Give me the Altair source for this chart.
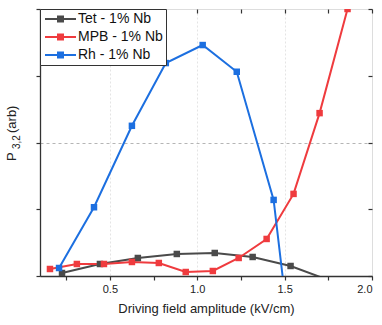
import altair as alt
import pandas as pd

series_names = ["Tet - 1% Nb", "MPB - 1% Nb", "Rh - 1% Nb"]
series_colors = ["#4a4a4a", "#ef3b3e", "#1c6fe0"]

tet_x = [0.226, 0.443, 0.66, 0.883, 1.10, 1.317, 1.534, 1.75]
tet_y = [0.045, 0.18, 0.27, 0.33, 0.345, 0.285, 0.15, -0.06]

mpb_x = [0.157, 0.311, 0.466, 0.626, 0.78, 0.934, 1.089, 1.237, 1.397, 1.551, 1.70, 1.86]
mpb_y = [0.105, 0.18, 0.18, 0.21, 0.195, 0.06, 0.075, 0.27, 0.555, 1.23, 2.44, 4.0]

rh_x = [0.209, 0.409, 0.626, 0.82, 1.031, 1.226, 1.437, 1.65]
rh_y = [0.12, 1.03, 2.25, 3.19, 3.46, 3.06, 1.14, -3.6]

x_ticks = [0.25, 0.5, 0.75, 1.0, 1.25, 1.5, 1.75, 2.0]
y_ticks = [0, 1, 2, 3, 4]

rows = []
for name, xs, ys in zip(series_names, [tet_x, mpb_x, rh_x], [tet_y, mpb_y, rh_y]):
    for i, (a, b) in enumerate(zip(xs, ys)):
        rows.append({"series": name, "x": a, "y": b, "i": i})
df = pd.DataFrame(rows)

FONT = "Liberation Sans"

xscale = alt.Scale(domain=[0.1, 2.0], nice=False, zero=False)
yscale = alt.Scale(domain=[0, 4], nice=False, zero=False)
cscale = alt.Scale(domain=series_names, range=series_colors)

x_axis = alt.Axis(
    values=x_ticks,
    title="Driving field amplitude (kV/cm)",
    labelExpr="datum.value % 0.5 == 0 ? format(datum.value, '.1f') : ''",
    tickSize=4, labelPadding=3, titlePadding=8,
    labelFontSize=11, titleFontSize=13, titleFontWeight="normal",
    labelColor="#222", titleColor="#222",
    domainColor="#333", tickColor="#333",
    grid=True,
    gridColor=alt.condition("datum.value % 0.5 == 0 && datum.value < 2", alt.value("#e4e4e4"), alt.value("transparent")),
    gridDash=[2, 2],
)
y_axis = alt.Axis(
    values=y_ticks, labelExpr="''", title=None, tickSize=4,
    domainColor="#333", tickColor="#333",
    grid=True,
    gridColor=alt.condition("datum.value == 2", alt.value("#b5b5b5"), alt.value("transparent")),
    gridDash=[3, 3],
)

# line + square legend glyph, drawn to the right of the symbol box
legend_path = "M-1,-0.2H5.2V0.2H-1Z M1.4,-0.7H2.8V0.7H1.4Z"
legend = alt.Legend(title=None, orient="top-left", offset=0)

base = alt.Chart(df)

lines = base.mark_line(strokeWidth=2, clip=True).encode(
    x=alt.X("x:Q", scale=xscale, axis=x_axis),
    y=alt.Y("y:Q", scale=yscale, axis=y_axis),
    color=alt.Color("series:N", scale=cscale, sort=series_names, legend=legend),
    detail="series:N",
    order="i:Q",
)

points = base.mark_point(shape="square", filled=True, size=42, opacity=1, clip=True).encode(
    x=alt.X("x:Q", scale=xscale, axis=None),
    y=alt.Y("y:Q", scale=yscale, axis=None),
    color=alt.Color("series:N", scale=cscale, sort=series_names, legend=legend),
)

# right and top mirror axes
right_axis = base.mark_point(opacity=0).encode(
    y=alt.Y("y:Q", scale=yscale, axis=alt.Axis(orient="right", values=y_ticks, labelExpr="''", title=None,
                                               domain=False, tickSize=4, offset=-4, tickColor="#333", grid=False)),
)
top_axis = base.mark_point(opacity=0).encode(
    x=alt.X("x:Q", scale=xscale, axis=alt.Axis(orient="top", values=x_ticks, labelExpr="''", title=None,
                                               domain=False, tickSize=4, offset=-4, tickColor="#333", grid=False)),
)

tP = alt.Chart(pd.DataFrame({"t": ["P"]})).mark_text(angle=270, align="left", baseline="middle", fontSize=13, font=FONT, color="#222").encode(
    text="t:N", x=alt.value(-28), y=alt.value(152))
t32 = alt.Chart(pd.DataFrame({"t": ["3,2"]})).mark_text(angle=270, align="left", baseline="middle", fontSize=10, font=FONT, color="#222").encode(
    text="t:N", x=alt.value(-23), y=alt.value(140))
tarb = alt.Chart(pd.DataFrame({"t": ["(arb)"]})).mark_text(angle=270, align="left", baseline="middle", fontSize=13, font=FONT, color="#222").encode(
    text="t:N", x=alt.value(-28), y=alt.value(124))

chart = alt.layer(lines, points, right_axis, top_axis, tP, t32, tarb).resolve_scale(
    x="shared", y="shared"
).resolve_axis(x="independent", y="independent").properties(
    width=332, height=267,
    autosize=alt.AutoSizeParams(type="none"),
    padding={"left": 40, "top": 9, "right": 10, "bottom": 49},
).configure_view(
    stroke="#333", strokeWidth=1.3
).configure(
    font=FONT, background="white"
).configure_axis(
    labelFont=FONT, titleFont=FONT, domainWidth=1.3, tickWidth=1.2
).configure_legend(
    symbolType=legend_path, symbolSize=100, symbolStrokeWidth=0,
    labelFontSize=14, labelColor="#111", labelFont=FONT, labelLimit=300,
    strokeColor="#333", fillColor="white", padding=3,
    rowPadding=4, labelOffset=21, symbolOffset=0,
)

chart.save("out.html", embed_options={"renderer": "svg", "actions": False})
